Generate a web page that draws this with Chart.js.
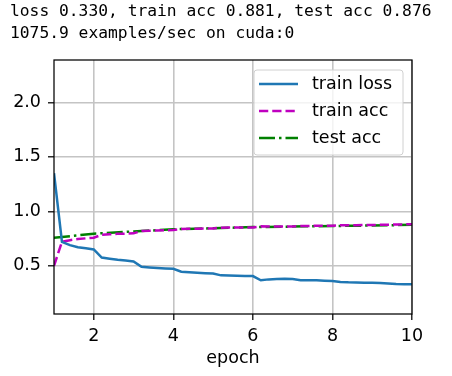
<!DOCTYPE html>
<html><head><meta charset="utf-8">
<script src="https://cdn.jsdelivr.net/npm/chart.js@4.4.1/dist/chart.umd.min.js"></script>
<style>
html,body{margin:0;padding:0;background:#fff;}
#wrap{position:relative;width:452px;height:376px;}
#title{position:absolute;left:10px;top:0;font-family:'DejaVu Sans Mono',monospace;font-size:16.3px;line-height:22px;color:#000;white-space:pre;}
canvas{position:absolute;left:0;top:0;}
</style></head><body>
<div id="wrap"><canvas id="c" width="452" height="376"></canvas>
<div id="title"></div></div>
<script>
const titleLines = ['loss 0.330, train acc 0.881, test acc 0.876', '1075.9 examples/sec on cuda:0'];
const seriesNames = ['train loss', 'train acc', 'test acc'];
const batchEpochs = [1.0,1.2,1.4,1.6,1.8,2.0,2.2,2.4,2.6,2.8,3.0,3.2,3.4,3.6,3.8,4.0,4.2,4.4,4.6,4.8,5.0,5.2,5.4,5.6,5.8,6.0,6.2,6.4,6.6,6.8,7.0,7.2,7.4,7.6,7.8,8.0,8.2,8.4,8.6,8.8,9.0,9.2,9.4,9.6,9.8,10.0];
const trainLoss = [1.35,0.72,0.69,0.67,0.66,0.65,0.575,0.565,0.555,0.548,0.54,0.49,0.485,0.48,0.476,0.472,0.445,0.44,0.436,0.432,0.428,0.412,0.41,0.408,0.407,0.405,0.367,0.375,0.378,0.38,0.378,0.367,0.366,0.366,0.363,0.36,0.352,0.348,0.346,0.345,0.344,0.342,0.338,0.332,0.331,0.330];
const trainAcc = [0.50,0.72,0.735,0.745,0.752,0.758,0.785,0.79,0.793,0.795,0.798,0.82,0.822,0.824,0.826,0.828,0.838,0.839,0.84,0.842,0.843,0.85,0.851,0.851,0.852,0.852,0.862,0.861,0.86,0.86,0.861,0.866,0.866,0.867,0.867,0.868,0.872,0.873,0.873,0.874,0.874,0.876,0.877,0.879,0.88,0.881];
const testEpochs = [1,2,3,4,5,6,7,8,9,10];
const testAcc = [0.757,0.795,0.815,0.835,0.845,0.855,0.860,0.865,0.870,0.876];
const xTicks = [2,4,6,8,10];
const yTicks = [0.5,1.0,1.5,2.0];
const xLabel = 'epoch';

document.getElementById('title').textContent = titleLines.join('\n');

const pts = (xs, ys) => xs.map((x, i) => ({x: x, y: ys[i]}));

const boxPlugin = {
  id: 'box',
  afterDatasetsDraw(chart) {
    const {ctx, chartArea: a} = chart;
    ctx.save();
    ctx.strokeStyle = '#000';
    ctx.lineWidth = 1.25;
    ctx.strokeRect(a.left, a.top, a.right - a.left, a.bottom - a.top);
    ctx.restore();
  }
};

const legendPlugin = {
  id: 'innerLegend',
  afterDraw(chart) {
    const {ctx, chartArea: a} = chart;
    const w = 149, h = 85;
    const x0 = a.right - 9 - w, y0 = a.top + 10;
    ctx.save();
    ctx.beginPath();
    ctx.roundRect(x0, y0, w, h, 3);
    ctx.fillStyle = 'rgba(255,255,255,0.8)';
    ctx.fill();
    ctx.strokeStyle = '#d0d0d0';
    ctx.lineWidth = 1;
    ctx.stroke();
    chart.data.datasets.forEach((ds, i) => {
      const y = y0 + 14 + i * 27;
      ctx.beginPath();
      ctx.setLineDash(ds.borderDash || []);
      ctx.strokeStyle = ds.borderColor;
      ctx.lineWidth = ds.borderWidth;
      ctx.moveTo(x0 + 5, y);
      ctx.lineTo(x0 + 44, y);
      ctx.stroke();
      ctx.setLineDash([]);
      ctx.fillStyle = '#000';
      ctx.font = '17.5px "DejaVu Sans"';
      ctx.textBaseline = 'middle';
      ctx.fillText(ds.label, x0 + 58, y);
    });
    ctx.restore();
  }
};

const tickFont = {family: 'DejaVu Sans', size: 17.5};

new Chart(document.getElementById('c'), {
  type: 'line',
  data: {
    datasets: [
      {label: seriesNames[0], data: pts(batchEpochs, trainLoss), borderColor: '#1f77b4', borderWidth: 2.5, pointRadius: 0, tension: 0, fill: false},
      {label: seriesNames[1], data: pts(batchEpochs, trainAcc), borderColor: '#bf00bf', borderWidth: 2.5, borderDash: [9.25, 4], pointRadius: 0, tension: 0, fill: false},
      {label: seriesNames[2], data: pts(testEpochs, testAcc), borderColor: '#008000', borderWidth: 2.5, borderDash: [16, 4, 2.5, 4], pointRadius: 0, tension: 0, fill: false}
    ]
  },
  options: {
    responsive: false,
    animation: false,
    events: [],
    layout: {padding: {left: 0, top: 60, right: 40, bottom: 0}},
    plugins: {legend: {display: false}, tooltip: {enabled: false}},
    scales: {
      x: {
        type: 'linear', min: 1, max: 10,
        afterBuildTicks: s => { s.ticks = xTicks.map(v => ({value: v})); },
        afterFit: s => { s.height = 62; },
        grid: {color: '#c4c4c4', lineWidth: 1.6, drawTicks: true, tickLength: 6, tickColor: '#000', tickWidth: 1.25},
        border: {display: false},
        ticks: {font: tickFont, color: '#000', padding: 6, maxRotation: 0, autoSkip: false, callback: v => String(v)},
        title: {display: true, text: xLabel, font: tickFont, color: '#000', padding: {top: 0, bottom: 7.5}}
      },
      y: {
        type: 'linear', min: 0.057, max: 2.39,
        afterBuildTicks: s => { s.ticks = yTicks.map(v => ({value: v})); },
        afterFit: s => { s.width = 54; },
        grid: {color: '#c4c4c4', lineWidth: 1.6, drawTicks: true, tickLength: 6, tickColor: '#000', tickWidth: 1.25},
        border: {display: false},
        ticks: {font: tickFont, color: '#000', padding: 7, autoSkip: false, callback: v => v.toFixed(1)}
      }
    }
  },
  plugins: [boxPlugin, legendPlugin]
});
</script>
</body></html>
